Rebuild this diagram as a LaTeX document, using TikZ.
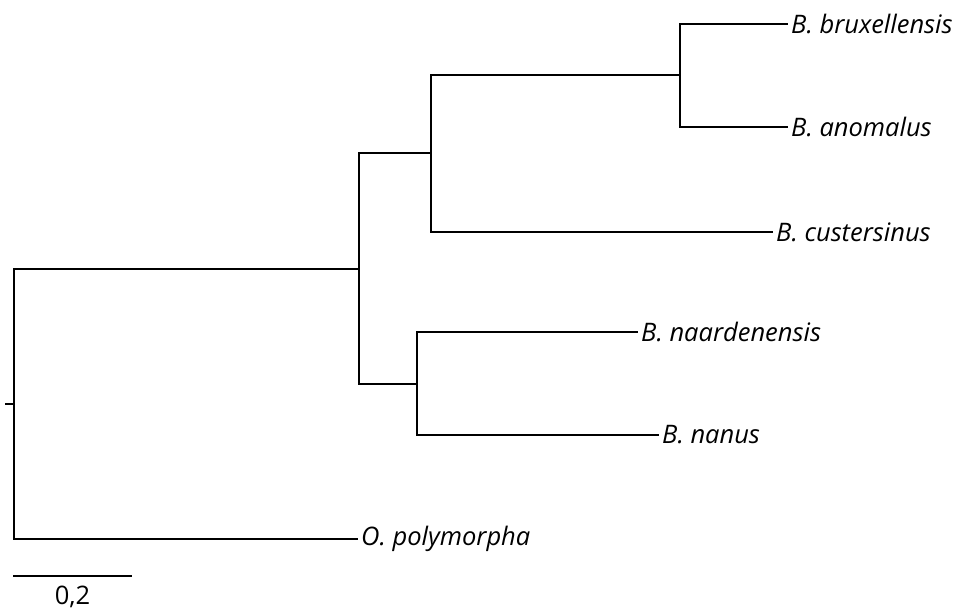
\documentclass[tikz,border=0pt]{standalone}
\usepackage{fontspec}
\setmainfont{Open Sans}
\usetikzlibrary{calc}

\begin{document}
\begin{tikzpicture}[x=1pt,y=-1pt]
\tikzset{
    branch/.style={black,line width=2pt,line cap=rect},
    taxon/.style={anchor=west,inner xsep=4pt,inner ysep=0pt,font=\fontsize{25.5}{30}\selectfont\itshape},
}
\useasboundingbox (0,0) rectangle (959,609);
% inner nodes
\coordinate (root) at (14, 404);
\coordinate (stub) at (6, 404);
\coordinate (a) at (359, 269);
\coordinate (b) at (431, 153);
\coordinate (c) at (680, 75);
\coordinate (d) at (417, 384);
% tips
\coordinate (bru) at (787, 24);
\coordinate (ano) at (787, 127);
\coordinate (cus) at (772, 232);
\coordinate (naa) at (637, 332);
\coordinate (nan) at (658, 435);
\coordinate (pol) at (357, 539);
% scale bar
\coordinate (sa) at (13, 576);
\coordinate (sb) at (132, 576);

\newcommand{\tedge}[2]{
    \draw[branch] (#1) |- (#2);
}
\newcommand{\taxlabel}[2]{
    \node[taxon] (l#1) at (#1) {#2};
}

\draw[branch] (stub)--(root);
\tedge{root}{a},\tedge{root}{pol}
\tedge{a}{b},\tedge{a}{d}
\tedge{b}{c},\tedge{b}{cus}
\tedge{c}{bru},\tedge{c}{ano}
\tedge{d}{naa},\tedge{d}{nan}

\taxlabel{bru}{B. bruxellensis}
\taxlabel{ano}{B. anomalus}
\taxlabel{cus}{B. custersinus}
\taxlabel{naa}{B. naardenensis}
\taxlabel{nan}{B. nanus}
\taxlabel{pol}{O. polymorpha}

\draw[branch,line cap=butt] (sa)--(sb);
\node[font=\fontsize{25.5}{30}\selectfont,inner sep=0pt] (scale) at ($(sa)!0.5!(sb)+(0,21)$) {0,2};
\end{tikzpicture}
\end{document}
